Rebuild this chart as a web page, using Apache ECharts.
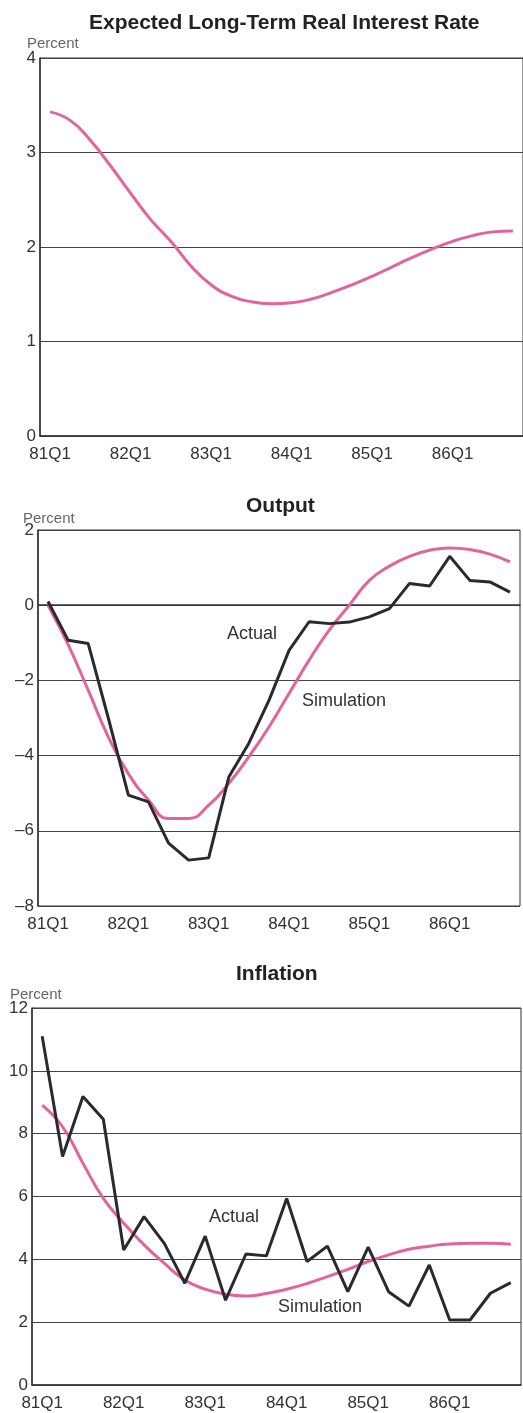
<!DOCTYPE html>
<html>
<head>
<meta charset="utf-8">
<script src="https://cdn.jsdelivr.net/npm/echarts@6/dist/echarts.min.js"></script>
<style>
  html, body { margin: 0; padding: 0; background: #fff; }
  #chart { width: 523px; height: 1413px; }
</style>
</head>
<body>
<div id="chart"></div>
<script>
// quarters 81Q1 .. 86Q4
const quarters = [];
for (let y = 81; y <= 86; y++) {
  for (let q = 1; q <= 4; q++) quarters.push(y + 'Q' + q);
}

const rateSim = [3.43, 3.34, 3.13, 2.86, 2.57, 2.29, 2.06, 1.8, 1.6, 1.48, 1.42, 1.4,
  1.41, 1.45, 1.52, 1.6, 1.69, 1.79, 1.89, 1.98, 2.06, 2.12, 2.16, 2.17];

const outputActual = [0.1, -0.93, -1.02, -3.0, -5.05, -5.23, -6.33, -6.78, -6.72, -4.57, -3.67, -2.53,
  -1.2, -0.44, -0.49, -0.45, -0.31, -0.09, 0.58, 0.51, 1.3, 0.66, 0.62, 0.35];
const outputSim = [0.0, -1.05, -2.26, -3.5, -4.48, -5.18, -5.67, -5.67, -5.32, -4.74, -4.03, -3.24,
  -2.35, -1.46, -0.66, 0.0, 0.66, 1.04, 1.3, 1.46, 1.52, 1.48, 1.36, 1.15];

const inflActual = [11.1, 7.27, 9.18, 8.46, 4.3, 5.36, 4.5, 3.24, 4.74, 2.7, 4.17, 4.11,
  5.94, 3.93, 4.42, 2.97, 4.39, 2.97, 2.51, 3.82, 2.07, 2.07, 2.92, 3.26];
const inflSim = [8.91, 8.22, 7.06, 5.94, 5.15, 4.46, 3.87, 3.34, 3.05, 2.89, 2.83, 2.91,
  3.05, 3.23, 3.45, 3.68, 3.93, 4.14, 4.32, 4.42, 4.49, 4.51, 4.51, 4.48];

const FONT = '"Liberation Sans", Arial, sans-serif';
const INK = '#2a2a2a';
const PINK = '#e3649c';

const grids = [
  { left: 40, top: 58, width: 483, height: 378 },
  { left: 38, top: 530, width: 482, height: 376 },
  { left: 32, top: 1008, width: 489, height: 377 }
];

const yRanges = [[0, 4, 1], [-8, 2, 2], [0, 12, 2]];

const chart = echarts.init(document.getElementById('chart'));

const option = {
  animation: false,
  backgroundColor: '#fff',
  title: [
    { text: 'Expected Long-Term Real Interest Rate', left: 89, top: 13 },
    { text: 'Output', left: 246, top: 496 },
    { text: 'Inflation', left: 236, top: 964 }
  ].map(t => Object.assign(t, {
    padding: 0,
    textStyle: { fontFamily: FONT, fontSize: 21, fontWeight: 'bold', color: '#222' }
  })),
  grid: grids.map(g => Object.assign({ show: true, borderColor: '#333', borderWidth: 1 }, g)),
  xAxis: grids.map((g, i) => ({
    type: 'category',
    gridIndex: i,
    data: quarters,
    boundaryGap: true,
    axisLine: { lineStyle: { color: '#333', width: 1.5 } },
    axisTick: { inside: true, length: 4, interval: 1, alignWithLabel: true, lineStyle: { color: '#333' } },
    axisLabel: { interval: 3, margin: 10, fontFamily: FONT, fontSize: 17, color: '#333' }
  })),
  yAxis: yRanges.map((r, i) => ({
    type: 'value',
    gridIndex: i,
    min: r[0], max: r[1], interval: r[2],
    axisLine: { show: true, lineStyle: { color: '#333', width: 1.5 } },
    axisTick: { show: false },
    splitLine: { lineStyle: { color: '#444', width: 1 } },
    axisLabel: {
      margin: 4, fontFamily: FONT, fontSize: 17, color: '#333',
      formatter: v => (v < 0 ? '\u2013' + Math.abs(v) : String(v))
    }
  })),
  graphic: [
    { type: 'text', left: 27, top: 36, style: { text: 'Percent', font: '15px ' + FONT, fill: '#666' } },
    { type: 'text', left: 23, top: 511, style: { text: 'Percent', font: '15px ' + FONT, fill: '#666' } },
    { type: 'text', left: 10, top: 987, style: { text: 'Percent', font: '15px ' + FONT, fill: '#666' } },
    { type: 'text', left: 227, top: 625, style: { text: 'Actual', font: '18px ' + FONT, fill: '#333' } },
    { type: 'text', left: 302, top: 692, style: { text: 'Simulation', font: '18px ' + FONT, fill: '#333' } },
    { type: 'text', left: 209, top: 1208, style: { text: 'Actual', font: '18px ' + FONT, fill: '#333' } },
    { type: 'text', left: 278, top: 1298, style: { text: 'Simulation', font: '18px ' + FONT, fill: '#333' } }
  ],
  series: [
    { name: 'Simulation', type: 'line', xAxisIndex: 0, yAxisIndex: 0, data: rateSim, smooth: 0.5,
      symbol: 'none', lineStyle: { color: PINK, width: 3 } },
    { name: 'Simulation', type: 'line', xAxisIndex: 1, yAxisIndex: 1, data: outputSim, smooth: 0.5,
      symbol: 'none', lineStyle: { color: PINK, width: 3 } },
    { name: 'Actual', type: 'line', xAxisIndex: 1, yAxisIndex: 1, data: outputActual,
      symbol: 'none', lineStyle: { color: INK, width: 3 } },
    { name: 'Simulation', type: 'line', xAxisIndex: 2, yAxisIndex: 2, data: inflSim, smooth: 0.5,
      symbol: 'none', lineStyle: { color: PINK, width: 3 } },
    { name: 'Actual', type: 'line', xAxisIndex: 2, yAxisIndex: 2, data: inflActual,
      symbol: 'none', lineStyle: { color: INK, width: 3 } }
  ]
};

chart.setOption(option);
</script>
</body>
</html>
